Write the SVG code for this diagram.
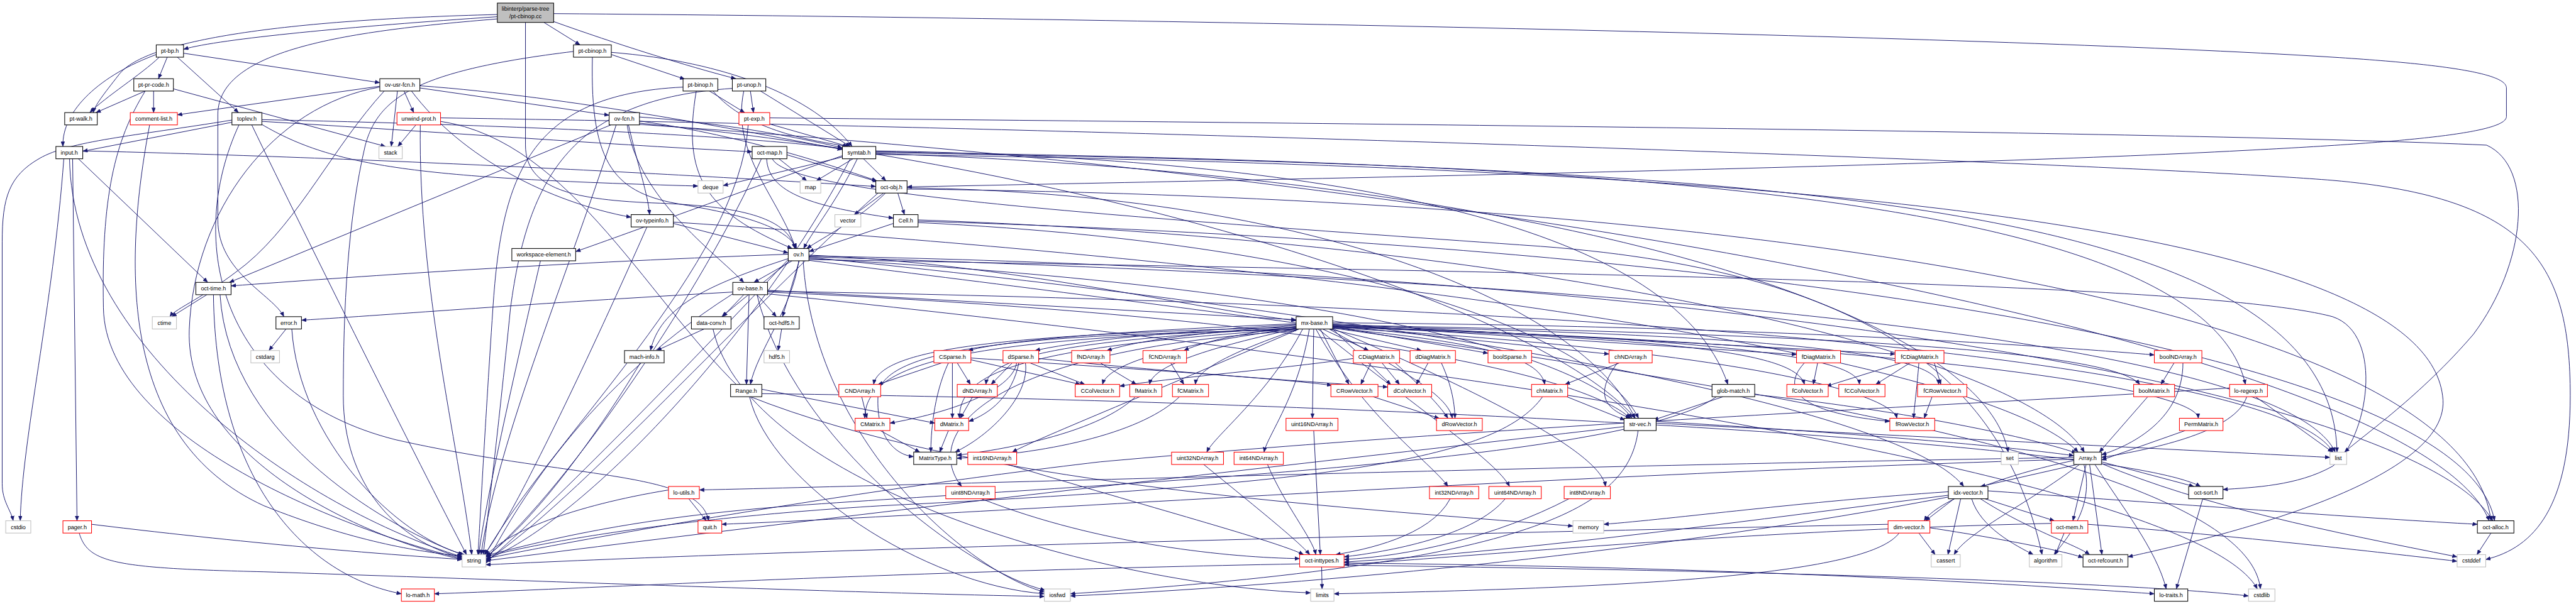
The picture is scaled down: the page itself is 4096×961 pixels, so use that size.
<svg xmlns="http://www.w3.org/2000/svg" width="4096" height="961" viewBox="0 0 4096 961">
<style>
.e path{fill:none;stroke:#191970;stroke-width:1.4;marker-end:url(#ah)}
rect.b{fill:#fff;stroke:#000;stroke-width:1.5}
rect.d{fill:#fff;stroke:#404040;stroke-width:2}
rect.r{fill:#fff;stroke:#f00;stroke-width:1.5}
rect.g{fill:#fff;stroke:#bfbfbf;stroke-width:1.5}
rect.root{fill:#bfbfbf;stroke:#000;stroke-width:1.5}
text{font-family:"Liberation Sans",Arial,Helvetica,sans-serif;font-size:13px;text-anchor:middle;fill:#000}
</style>
<defs>
<marker id="ah" viewBox="0 0 11 9" refX="11" refY="4.5" markerWidth="11" markerHeight="9" markerUnits="userSpaceOnUse" orient="auto"><path d="M0,0 L11,4.5 L0,9 z" fill="#191970" stroke="#191970" stroke-width="0.5"/></marker>
</defs>
<rect x="0" y="0" width="4096" height="961" fill="#fff"/>
<g transform="scale(0.6998)">
<g id="edges" class="e">
<path d="M1130 38 C800 60 500 88 417 112"/>
<path d="M1130 33 C650 45 330 90 270 170 C235 215 215 240 212 256"/>
<path d="M1236 51 L1318 102"/>
<path d="M1258 49 C1400 100 1560 150 1672 179"/>
<path d="M1130 43 C800 70 495 110 495 260 L495 500 C495 620 620 670 645 720"/>
<path d="M1194 51 L1194 330 C1194 430 1300 455 1500 462 C1700 470 1790 500 1806 565"/>
<path d="M1258 31 C2500 40 4500 80 5300 130 C5620 150 5695 175 5695 200 L5695 265 C5695 300 5500 322 5100 342 C4400 380 2800 410 2061 425"/>
<path d="M362 130 C320 170 240 220 204 256"/>
<path d="M380 130 L360 179"/>
<path d="M417 121 L863 188"/>
<path d="M403 130 L542 256"/>
<path d="M355 124 C230 170 140 250 143 333"/>
<path d="M1389 124 L1556 180"/>
<path d="M1346 130 C1340 380 1400 440 1550 465 C1700 490 1790 520 1810 565"/>
<path d="M1389 119 C1650 140 1850 220 1936 333"/>
<path d="M1303 117 C950 160 860 220 830 330 C790 500 780 700 780 900 C780 1100 900 1230 1050 1268"/>
<path d="M330 207 L218 256"/>
<path d="M349 207 L349 256"/>
<path d="M394 202 L876 333"/>
<path d="M330 207 C260 320 230 450 235 700 C240 1000 800 1210 1050 1270"/>
<path d="M863 196 L403 261"/>
<path d="M918 207 L940 256"/>
<path d="M903 207 L889 333"/>
<path d="M954 200 L1384 262"/>
<path d="M935 207 C1050 360 1250 460 1434 494"/>
<path d="M954 195 C1300 220 1700 300 1914 340"/>
<path d="M873 207 C760 330 680 500 560 600 C460 680 400 700 386 720"/>
<path d="M863 198 C620 240 440 480 430 750 C420 1050 850 1230 1050 1272"/>
<path d="M527 278 L188 344"/>
<path d="M527 273 C300 310 160 320 90 360 C20 400 5 450 5 550 L5 1100 C5 1140 25 1160 30 1184"/>
<path d="M595 283 C760 380 950 405 1586 423"/>
<path d="M595 276 C1000 300 1400 330 1709 345"/>
<path d="M595 272 C1200 285 1700 310 1914 338"/>
<path d="M572 284 C700 550 950 1050 1060 1261"/>
<path d="M543 284 C420 550 500 900 900 1000 C1300 1090 1590 1070 1610 1184"/>
<path d="M945 284 L904 333"/>
<path d="M955 284 C950 650 1040 1000 1072 1261"/>
<path d="M1001 268 C2500 290 4800 370 5300 410 C5750 450 5840 600 5840 900 C5840 1150 5760 1245 5648 1272"/>
<path d="M1001 276 C1300 320 1480 700 1700 900 C2200 1100 3000 1150 3574 1196"/>
<path d="M340 284 C280 600 270 1000 600 1150 C800 1230 950 1255 1050 1264"/>
<path d="M1388 284 L521 642"/>
<path d="M1425 284 C1450 450 1620 570 1690 642"/>
<path d="M1428 284 C1450 380 1472 440 1476 488"/>
<path d="M1453 266 C1650 280 1800 310 1914 336"/>
<path d="M1453 275 C1700 310 1900 380 1992 411"/>
<path d="M1453 280 C2500 380 3500 700 3716 951"/>
<path d="M1453 283 C3500 420 5500 800 5656 1184"/>
<path d="M1400 284 C1300 600 1130 1000 1093 1261"/>
<path d="M1612 207 L1692 256"/>
<path d="M1620 207 C1700 300 1850 320 1926 333"/>
<path d="M1582 207 C1550 400 1600 480 1800 565"/>
<path d="M1552 198 C1200 215 1140 400 1120 700 C1100 1000 1090 1200 1086 1261"/>
<path d="M1705 207 L1712 256"/>
<path d="M1728 207 L1932 333"/>
<path d="M1690 207 C1660 350 1770 450 1808 565"/>
<path d="M1664 201 C1300 225 1200 400 1160 700 C1130 1000 1105 1200 1098 1261"/>
<path d="M1749 282 L1927 333"/>
<path d="M1749 268 C3000 280 5000 300 5650 330 C5760 380 5740 600 5620 760 C5500 900 5370 990 5327 1028"/>
<path d="M1700 284 C1680 600 1250 1000 1102 1261"/>
<path d="M145 361 C120 700 50 1000 46 1184"/>
<path d="M165 361 L175 1184"/>
<path d="M178 361 L472 642"/>
<path d="M188 343 C900 360 1600 400 1990 424"/>
<path d="M158 361 C165 800 700 1160 1050 1266"/>
<path d="M1770 361 L1833 411"/>
<path d="M1788 352 L1994 413"/>
<path d="M1742 361 C1745 440 1850 470 2030 496"/>
<path d="M1730 361 C1600 650 1300 1100 1104 1268"/>
<path d="M1755 361 C1790 440 2500 490 3500 560 C4300 620 4560 900 4640 1261"/>
<path d="M1914 357 L1643 422"/>
<path d="M1938 361 L1855 411"/>
<path d="M1962 361 L2013 411"/>
<path d="M1948 361 C1900 460 1850 520 1826 565"/>
<path d="M1914 354 C1700 430 1400 540 1308 572"/>
<path d="M1990 343 C3000 360 3800 500 3926 874"/>
<path d="M1990 345 C3500 370 5000 420 5102 874"/>
<path d="M1990 347 C4000 380 5300 450 5310 1028"/>
<path d="M1990 349 C3500 400 4500 700 4563 1028"/>
<path d="M1990 351 C4000 380 5500 500 5550 900 C5580 1100 5000 1230 4835 1266"/>
<path d="M1932 361 C1700 800 1300 1200 1104 1272"/>
<path d="M2008 439 L1941 488"/>
<path d="M2040 439 L2055 488"/>
<path d="M2012 439 C1950 500 1870 540 1833 565"/>
<path d="M2061 427 C3000 440 3600 700 3715 951"/>
<path d="M2061 430 C4000 450 5600 700 5660 1184"/>
<path d="M1995 439 C1700 700 1300 1150 1104 1275"/>
<path d="M2030 508 L1838 572"/>
<path d="M2086 500 C3500 550 4600 800 4736 1028"/>
<path d="M2086 503 C4000 560 5600 800 5668 1184"/>
<path d="M2086 506 C3200 560 3650 800 3723 951"/>
<path d="M1530 508 L1791 575"/>
<path d="M1530 505 C3000 600 4500 800 4722 1028"/>
<path d="M1470 516 C1300 900 1150 1200 1100 1261"/>
<path d="M1228 593 C1180 800 1100 1150 1088 1261"/>
<path d="M1800 593 L1713 642"/>
<path d="M1815 593 C1800 700 1720 800 1705 874"/>
<path d="M1794 593 L1640 720"/>
<path d="M1838 585 C3000 700 4300 900 4462 1106"/>
<path d="M1791 588 C1600 650 1500 700 1478 797"/>
<path d="M1838 580 C2300 600 2700 700 2945 729"/>
<path d="M1838 582 C4000 620 5500 900 5664 1184"/>
<path d="M1791 578 C1200 600 800 630 525 650"/>
<path d="M1838 588 C3000 650 3600 800 3708 951"/>
<path d="M1816 593 L1778 720"/>
<path d="M1838 590 C3500 620 5000 640 5300 720 C5420 760 5380 1000 5300 1060 C5220 1105 5120 1108 5051 1113"/>
<path d="M1838 592 C3500 800 5100 1000 5136 1339"/>
<path d="M1825 593 C1850 1000 2200 1300 2373 1346"/>
<path d="M1838 584 C4000 650 5200 800 5306 1028"/>
<path d="M1791 590 C1500 900 1200 1200 1104 1278"/>
<path d="M1690 670 L1642 720"/>
<path d="M1720 670 L1764 720"/>
<path d="M1702 670 L1696 874"/>
<path d="M1665 664 C1200 690 900 715 685 728"/>
<path d="M1744 660 L2945 727"/>
<path d="M1744 664 C3000 720 3600 850 3704 951"/>
<path d="M1720 670 C1800 1000 2200 1300 2375 1342"/>
<path d="M1744 668 C3500 850 5000 1100 5129 1339"/>
<path d="M1744 662 C4000 700 5200 850 5301 1028"/>
<path d="M1665 668 C1300 900 1150 1200 1104 1281"/>
<path d="M470 670 L390 720"/>
<path d="M500 670 C520 1000 900 1210 1052 1261"/>
<path d="M485 670 C490 1100 700 1310 912 1350"/>
<path d="M650 748 L611 797"/>
<path d="M663 748 C680 1000 900 1220 1055 1261"/>
<path d="M1600 748 L1492 797"/>
<path d="M1620 748 C1700 1100 2500 1330 2978 1348"/>
<path d="M1776 748 L1768 797"/>
<path d="M1455 825 C1350 1000 1200 1200 1104 1265"/>
<path d="M2945 736 C2600 750 2300 770 2200 797"/>
<path d="M2945 738 C2650 755 2450 775 2352 797"/>
<path d="M2945 740 C2750 755 2600 770 2515 797"/>
<path d="M2945 742 C2850 755 2750 770 2690 797"/>
<path d="M2945 744 C2300 760 2000 790 1985 874"/>
<path d="M2945 745 C2500 770 2250 800 2240 874"/>
<path d="M2945 746 C2700 780 2520 820 2505 874"/>
<path d="M2945 747 C2750 790 2620 830 2612 874"/>
<path d="M2950 748 C2800 800 2720 840 2716 874"/>
<path d="M2945 748 C2200 770 1965 820 1965 951"/>
<path d="M2947 748 C2300 790 2180 850 2180 951"/>
<path d="M2945 750 C2400 760 2000 780 1995 900 C1990 1000 2040 1036 2076 1038"/>
<path d="M2952 748 C2600 900 2350 1000 2300 1028"/>
<path d="M2960 748 C2880 900 2760 990 2742 1028"/>
<path d="M2975 748 C2950 900 2880 990 2872 1028"/>
<path d="M2945 752 C2200 800 2100 1000 2185 1106"/>
<path d="M2985 748 L2982 951"/>
<path d="M3005 748 L3110 797"/>
<path d="M3020 748 L3230 797"/>
<path d="M3028 742 L3381 803"/>
<path d="M3028 740 L3656 805"/>
<path d="M3028 738 L4082 806"/>
<path d="M3028 736 L4306 805"/>
<path d="M3028 734 C4000 740 4700 790 4895 807"/>
<path d="M3000 748 L3065 874"/>
<path d="M3028 748 L3160 874"/>
<path d="M3028 746 C3400 780 3500 820 3510 874"/>
<path d="M3028 744 C3800 770 4080 800 4100 874"/>
<path d="M3028 742 C3900 770 4220 810 4225 874"/>
<path d="M3028 741 C4000 760 4400 800 4405 874"/>
<path d="M3028 739 C4200 760 4800 800 4862 874"/>
<path d="M3020 748 C3200 850 3290 900 3300 951"/>
<path d="M3028 745 C4000 800 4300 900 4310 951"/>
<path d="M3028 743 C4300 780 4990 880 4995 951"/>
<path d="M2990 748 C3100 950 3250 1050 3290 1106"/>
<path d="M2995 748 C3250 950 3400 1050 3430 1106"/>
<path d="M3028 747 C3500 950 3640 1050 3648 1106"/>
<path d="M2140 825 L1995 874"/>
<path d="M2175 825 L2205 874"/>
<path d="M2164 825 L2164 951"/>
<path d="M2206 818 L2455 874"/>
<path d="M2155 825 C2120 900 2115 990 2115 1028"/>
<path d="M2206 814 C2600 840 2900 860 3026 876"/>
<path d="M2300 825 L2252 874"/>
<path d="M2315 825 C2300 900 2250 940 2201 958"/>
<path d="M2340 825 L2465 874"/>
<path d="M2330 825 C2340 900 2250 990 2170 1028"/>
<path d="M2310 825 C2300 890 2150 940 2022 962"/>
<path d="M2360 815 C2700 850 3000 870 3153 880"/>
<path d="M2500 825 L2582 874"/>
<path d="M2660 825 L2690 874"/>
<path d="M1958 902 L1970 951"/>
<path d="M2210 902 L2182 951"/>
<path d="M2580 902 C2500 980 2300 1020 2174 1035"/>
<path d="M2680 902 C2600 980 2400 1030 2174 1042"/>
<path d="M2000 979 L2090 1028"/>
<path d="M2155 979 L2135 1028"/>
<path d="M1731 885 L2124 962"/>
<path d="M1703 902 C1750 1100 2100 1330 2373 1350"/>
<path d="M1731 895 C3000 910 4800 1000 5000 1106"/>
<path d="M3115 825 L3092 874"/>
<path d="M3140 825 L3180 874"/>
<path d="M3170 825 C3230 880 3270 920 3290 951"/>
<path d="M3075 815 C2900 840 2650 860 2544 878"/>
<path d="M3245 825 L3218 874"/>
<path d="M3275 825 C3300 880 3305 920 3306 951"/>
<path d="M3120 902 L3270 951"/>
<path d="M3680 825 L3556 874"/>
<path d="M3675 825 C3620 900 3650 930 3705 951"/>
<path d="M3560 902 L3692 955"/>
<path d="M3505 902 C3400 1050 3000 1100 2000 1150 C1500 1180 1200 1240 1104 1266"/>
<path d="M4130 825 L4120 874"/>
<path d="M4100 825 C4040 890 4100 940 4294 958"/>
<path d="M4320 825 L4150 878"/>
<path d="M4340 825 L4262 874"/>
<path d="M4395 825 L4410 874"/>
<path d="M4360 825 C4355 890 4350 920 4348 951"/>
<path d="M4390 902 L4372 951"/>
<path d="M3915 902 L3757 955"/>
<path d="M3987 897 C4300 930 4600 990 4718 1030"/>
<path d="M3900 902 C3700 1050 2500 1100 1800 1150 C1400 1180 1200 1240 1104 1263"/>
<path d="M4940 825 L4910 874"/>
<path d="M4960 825 C4960 950 4850 1010 4775 1034"/>
<path d="M4880 902 L4770 1028"/>
<path d="M5105 902 C5080 980 4900 1020 4775 1040"/>
<path d="M5125 902 L5300 1028"/>
<path d="M5066 882 C4500 920 3500 960 2500 1050 C1900 1120 1300 1230 1104 1270"/>
<path d="M4965 979 L4775 1046"/>
<path d="M3763 958 C4300 990 4600 1020 4712 1036"/>
<path d="M3763 962 C4500 1000 5100 1030 5294 1040"/>
<path d="M3722 979 C3700 1150 3500 1280 2432 1350"/>
<path d="M3690 970 C3000 1050 2000 1160 1104 1275"/>
<path d="M2985 979 L3000 1261"/>
<path d="M2290 1056 C2600 1150 2900 1230 2962 1261"/>
<path d="M2735 1056 C2850 1150 2950 1230 2976 1261"/>
<path d="M2880 1056 C2920 1150 2980 1220 2990 1261"/>
<path d="M2230 1134 C2500 1240 2800 1268 2953 1270"/>
<path d="M3295 1134 C3250 1220 3100 1250 3035 1261"/>
<path d="M3420 1134 C3350 1220 3150 1255 3054 1266"/>
<path d="M3565 1134 C3400 1220 3200 1265 3054 1272"/>
<path d="M3003 1289 L3004 1339"/>
<path d="M2953 1282 C2000 1300 1300 1340 987 1350"/>
<path d="M3054 1280 C4000 1290 4600 1330 4895 1350"/>
<path d="M3054 1285 C4200 1300 4900 1330 5109 1355"/>
<path d="M4720 1056 L4500 1106"/>
<path d="M4775 1050 L4985 1106"/>
<path d="M4740 1056 L4710 1184"/>
<path d="M4725 1056 C4600 1150 4470 1210 4440 1261"/>
<path d="M4735 1056 C4760 1150 4700 1220 4667 1261"/>
<path d="M4748 1056 L4776 1261"/>
<path d="M4760 1056 C4820 1150 4900 1250 4922 1339"/>
<path d="M4775 1054 C5000 1150 5300 1210 5583 1266"/>
<path d="M4712 1047 C4550 1080 4400 1140 4372 1184"/>
<path d="M4712 1040 C3500 1060 2200 1100 1589 1114"/>
<path d="M4712 1044 C3500 1080 2200 1170 1640 1192"/>
<path d="M4455 1134 L4426 1261"/>
<path d="M4480 1134 C4500 1200 4580 1240 4620 1261"/>
<path d="M4500 1134 C4600 1200 4720 1240 4748 1261"/>
<path d="M4510 1134 L4668 1184"/>
<path d="M4517 1116 C5000 1150 5400 1180 5629 1192"/>
<path d="M4440 1134 L4375 1184"/>
<path d="M4427 1126 C4000 1180 3500 1250 3054 1278"/>
<path d="M4427 1118 C4100 1140 3800 1180 3644 1192"/>
<path d="M4427 1130 C3800 1250 3000 1330 2432 1355"/>
<path d="M5005 1134 L4945 1339"/>
<path d="M5660 1212 L5628 1261"/>
<path d="M4744 1192 C5100 1220 5400 1255 5583 1276"/>
<path d="M4690 1212 L4670 1261"/>
<path d="M4661 1190 C4000 1205 3400 1260 3054 1284"/>
<path d="M4360 1212 L4397 1261"/>
<path d="M4315 1212 C4250 1300 3800 1335 3031 1350"/>
<path d="M4290 1192 C3000 1220 1800 1250 1104 1284"/>
<path d="M4385 1200 C4550 1225 4700 1255 4733 1268"/>
<path d="M1565 1134 L1605 1184"/>
<path d="M1519 1114 C1300 1150 1150 1210 1104 1264"/>
<path d="M208 1192 C600 1240 900 1262 1050 1272"/>
<path d="M180 1212 C200 1280 260 1292 600 1300 C1200 1320 2000 1350 2373 1356"/>
</g>
<g id="nodes">
<g id="n-root"><rect class="root" x="1130" y="7" width="128" height="44"/><text x="1194" y="25">libinterp/parse-tree</text><text x="1194" y="42">/pt-cbinop.cc</text></g>
<g id="n-pt-bp"><rect class="b" x="355" y="102" width="62" height="28"/><text x="386" y="120.5">pt-bp.h</text></g>
<g id="n-pt-cbinop-h"><rect class="b" x="1303" y="102" width="86" height="28"/><text x="1346" y="120.5">pt-cbinop.h</text></g>
<g id="n-pt-pr-code"><rect class="b" x="304" y="179" width="90" height="28"/><text x="349" y="197.5">pt-pr-code.h</text></g>
<g id="n-ov-usr-fcn"><rect class="b" x="863" y="179" width="91" height="28"/><text x="908.5" y="197.5">ov-usr-fcn.h</text></g>
<g id="n-pt-binop"><rect class="b" x="1552" y="179" width="79" height="28"/><text x="1591.5" y="197.5">pt-binop.h</text></g>
<g id="n-pt-unop"><rect class="b" x="1664" y="179" width="76" height="28"/><text x="1702" y="197.5">pt-unop.h</text></g>
<g id="n-pt-walk"><rect class="b" x="147" y="256" width="74" height="28"/><text x="184" y="274.5">pt-walk.h</text></g>
<g id="n-comment-list"><rect class="r" x="296" y="256" width="107" height="28"/><text x="349.5" y="274.5">comment-list.h</text></g>
<g id="n-toplev"><rect class="b" x="527" y="256" width="68" height="28"/><text x="561" y="274.5">toplev.h</text></g>
<g id="n-unwind-prot"><rect class="r" x="902" y="256" width="99" height="28"/><text x="951.5" y="274.5">unwind-prot.h</text></g>
<g id="n-ov-fcn"><rect class="b" x="1384" y="256" width="69" height="28"/><text x="1418.5" y="274.5">ov-fcn.h</text></g>
<g id="n-pt-exp"><rect class="r" x="1679" y="256" width="70" height="28"/><text x="1714" y="274.5">pt-exp.h</text></g>
<g id="n-input"><rect class="b" x="127" y="333" width="61" height="28"/><text x="157.5" y="351.5">input.h</text></g>
<g id="n-stack"><rect class="g" x="861" y="333" width="53" height="28"/><text x="887.5" y="351.5">stack</text></g>
<g id="n-oct-map"><rect class="b" x="1709" y="333" width="79" height="28"/><text x="1748.5" y="351.5">oct-map.h</text></g>
<g id="n-symtab"><rect class="b" x="1914" y="333" width="76" height="28"/><text x="1952" y="351.5">symtab.h</text></g>
<g id="n-deque"><rect class="g" x="1586" y="411" width="57" height="28"/><text x="1614.5" y="429.5">deque</text></g>
<g id="n-map"><rect class="g" x="1818" y="411" width="47" height="28"/><text x="1841.5" y="429.5">map</text></g>
<g id="n-oct-obj"><rect class="b" x="1990" y="411" width="71" height="28"/><text x="2025.5" y="429.5">oct-obj.h</text></g>
<g id="n-ov-typeinfo"><rect class="b" x="1434" y="488" width="96" height="28"/><text x="1482" y="506.5">ov-typeinfo.h</text></g>
<g id="n-vector"><rect class="g" x="1897" y="488" width="59" height="28"/><text x="1926.5" y="506.5">vector</text></g>
<g id="n-Cell"><rect class="b" x="2030" y="488" width="56" height="28"/><text x="2058" y="506.5">Cell.h</text></g>
<g id="n-workspace-element"><rect class="b" x="1163" y="565" width="145" height="28"/><text x="1235.5" y="583.5">workspace-element.h</text></g>
<g id="n-ov"><rect class="b" x="1791" y="565" width="47" height="28"/><text x="1814.5" y="583.5">ov.h</text></g>
<g id="n-oct-time"><rect class="b" x="445" y="642" width="80" height="28"/><text x="485" y="660.5">oct-time.h</text></g>
<g id="n-ov-base"><rect class="b" x="1665" y="642" width="79" height="28"/><text x="1704.5" y="660.5">ov-base.h</text></g>
<g id="n-ctime"><rect class="g" x="346" y="720" width="55" height="28"/><text x="373.5" y="738.5">ctime</text></g>
<g id="n-error"><rect class="b" x="627" y="720" width="58" height="28"/><text x="656" y="738.5">error.h</text></g>
<g id="n-data-conv"><rect class="b" x="1571" y="720" width="90" height="28"/><text x="1616" y="738.5">data-conv.h</text></g>
<g id="n-oct-hdf5"><rect class="b" x="1736" y="720" width="80" height="28"/><text x="1776" y="738.5">oct-hdf5.h</text></g>
<g id="n-mx-base"><rect class="b" x="2945" y="720" width="83" height="28"/><text x="2986.5" y="738.5">mx-base.h</text></g>
<g id="n-cstdarg"><rect class="g" x="570" y="797" width="65" height="28"/><text x="602.5" y="815.5">cstdarg</text></g>
<g id="n-mach-info"><rect class="d" x="1419" y="797" width="90" height="28"/><text x="1464" y="815.5">mach-info.h</text></g>
<g id="n-hdf5"><rect class="g" x="1736" y="797" width="58" height="28"/><text x="1765" y="815.5">hdf5.h</text></g>
<g id="n-CSparse"><rect class="r" x="2122" y="797" width="84" height="28"/><text x="2164" y="815.5">CSparse.h</text></g>
<g id="n-dSparse"><rect class="r" x="2279" y="797" width="81" height="28"/><text x="2319.5" y="815.5">dSparse.h</text></g>
<g id="n-fNDArray"><rect class="r" x="2435" y="797" width="87" height="28"/><text x="2478.5" y="815.5">fNDArray.h</text></g>
<g id="n-fCNDArray"><rect class="r" x="2597" y="797" width="99" height="28"/><text x="2646.5" y="815.5">fCNDArray.h</text></g>
<g id="n-CDiagMatrix"><rect class="r" x="3075" y="797" width="105" height="28"/><text x="3127.5" y="815.5">CDiagMatrix.h</text></g>
<g id="n-dDiagMatrix"><rect class="r" x="3204" y="797" width="103" height="28"/><text x="3255.5" y="815.5">dDiagMatrix.h</text></g>
<g id="n-boolSparse"><rect class="r" x="3381" y="797" width="99" height="28"/><text x="3430.5" y="815.5">boolSparse.h</text></g>
<g id="n-chNDArray"><rect class="r" x="3656" y="797" width="98" height="28"/><text x="3705" y="815.5">chNDArray.h</text></g>
<g id="n-fDiagMatrix"><rect class="r" x="4082" y="797" width="100" height="28"/><text x="4132" y="815.5">fDiagMatrix.h</text></g>
<g id="n-fCDiagMatrix"><rect class="r" x="4306" y="797" width="111" height="28"/><text x="4361.5" y="815.5">fCDiagMatrix.h</text></g>
<g id="n-boolNDArray"><rect class="r" x="4895" y="797" width="108" height="28"/><text x="4949" y="815.5">boolNDArray.h</text></g>
<g id="n-Range"><rect class="b" x="1660" y="874" width="71" height="28"/><text x="1695.5" y="892.5">Range.h</text></g>
<g id="n-CNDArray"><rect class="r" x="1906" y="874" width="95" height="28"/><text x="1953.5" y="892.5">CNDArray.h</text></g>
<g id="n-dNDArray"><rect class="r" x="2175" y="874" width="91" height="28"/><text x="2220.5" y="892.5">dNDArray.h</text></g>
<g id="n-CColVector"><rect class="r" x="2443" y="874" width="101" height="28"/><text x="2493.5" y="892.5">CColVector.h</text></g>
<g id="n-fMatrix"><rect class="r" x="2567" y="874" width="73" height="28"/><text x="2603.5" y="892.5">fMatrix.h</text></g>
<g id="n-fCMatrix"><rect class="r" x="2664" y="874" width="82" height="28"/><text x="2705" y="892.5">fCMatrix.h</text></g>
<g id="n-CRowVector"><rect class="r" x="3024" y="874" width="107" height="28"/><text x="3077.5" y="892.5">CRowVector.h</text></g>
<g id="n-dColVector"><rect class="r" x="3153" y="874" width="100" height="28"/><text x="3203" y="892.5">dColVector.h</text></g>
<g id="n-chMatrix"><rect class="r" x="3480" y="874" width="82" height="28"/><text x="3521" y="892.5">chMatrix.h</text></g>
<g id="n-glob-match"><rect class="b" x="3890" y="874" width="97" height="28"/><text x="3938.5" y="892.5">glob-match.h</text></g>
<g id="n-fColVector"><rect class="r" x="4060" y="874" width="94" height="28"/><text x="4107" y="892.5">fColVector.h</text></g>
<g id="n-fCColVector"><rect class="r" x="4178" y="874" width="105" height="28"/><text x="4230.5" y="892.5">fCColVector.h</text></g>
<g id="n-fCRowVector"><rect class="r" x="4357" y="874" width="112" height="28"/><text x="4413" y="892.5">fCRowVector.h</text></g>
<g id="n-boolMatrix"><rect class="r" x="4848" y="874" width="93" height="28"/><text x="4894.5" y="892.5">boolMatrix.h</text></g>
<g id="n-lo-regexp"><rect class="r" x="5066" y="874" width="86" height="28"/><text x="5109" y="892.5">lo-regexp.h</text></g>
<g id="n-CMatrix"><rect class="r" x="1943" y="951" width="79" height="28"/><text x="1982.5" y="969.5">CMatrix.h</text></g>
<g id="n-dMatrix"><rect class="r" x="2124" y="951" width="77" height="28"/><text x="2162.5" y="969.5">dMatrix.h</text></g>
<g id="n-uint16NDArray"><rect class="r" x="2922" y="951" width="118" height="28"/><text x="2981" y="969.5">uint16NDArray.h</text></g>
<g id="n-dRowVector"><rect class="r" x="3264" y="951" width="104" height="28"/><text x="3316" y="969.5">dRowVector.h</text></g>
<g id="n-str-vec"><rect class="b" x="3690" y="951" width="73" height="28"/><text x="3726.5" y="969.5">str-vec.h</text></g>
<g id="n-fRowVector"><rect class="r" x="4294" y="951" width="102" height="28"/><text x="4345" y="969.5">fRowVector.h</text></g>
<g id="n-PermMatrix"><rect class="r" x="4952" y="951" width="99" height="28"/><text x="5001.5" y="969.5">PermMatrix.h</text></g>
<g id="n-MatrixType"><rect class="d" x="2076" y="1028" width="98" height="28"/><text x="2125" y="1046.5">MatrixType.h</text></g>
<g id="n-int16NDArray"><rect class="r" x="2199" y="1028" width="111" height="28"/><text x="2254.5" y="1046.5">int16NDArray.h</text></g>
<g id="n-uint32NDArray"><rect class="r" x="2662" y="1028" width="118" height="28"/><text x="2721" y="1046.5">uint32NDArray.h</text></g>
<g id="n-int64NDArray"><rect class="r" x="2804" y="1028" width="112" height="28"/><text x="2860" y="1046.5">int64NDArray.h</text></g>
<g id="n-set"><rect class="g" x="4547" y="1028" width="39" height="28"/><text x="4566.5" y="1046.5">set</text></g>
<g id="n-Array"><rect class="d" x="4712" y="1028" width="63" height="28"/><text x="4743.5" y="1046.5">Array.h</text></g>
<g id="n-list"><rect class="g" x="5294" y="1028" width="38" height="28"/><text x="5313" y="1046.5">list</text></g>
<g id="n-lo-utils"><rect class="r" x="1519" y="1106" width="70" height="28"/><text x="1554" y="1124.5">lo-utils.h</text></g>
<g id="n-uint8NDArray"><rect class="r" x="2149" y="1106" width="112" height="28"/><text x="2205" y="1124.5">uint8NDArray.h</text></g>
<g id="n-int32NDArray"><rect class="r" x="3248" y="1106" width="112" height="28"/><text x="3304" y="1124.5">int32NDArray.h</text></g>
<g id="n-uint64NDArray"><rect class="r" x="3383" y="1106" width="119" height="28"/><text x="3442.5" y="1124.5">uint64NDArray.h</text></g>
<g id="n-int8NDArray"><rect class="r" x="3554" y="1106" width="105" height="28"/><text x="3606.5" y="1124.5">int8NDArray.h</text></g>
<g id="n-idx-vector"><rect class="b" x="4427" y="1106" width="90" height="28"/><text x="4472" y="1124.5">idx-vector.h</text></g>
<g id="n-oct-sort"><rect class="b" x="4973" y="1106" width="78" height="28"/><text x="5012" y="1124.5">oct-sort.h</text></g>
<g id="n-cstdio"><rect class="g" x="13" y="1184" width="57" height="28"/><text x="41.5" y="1202.5">cstdio</text></g>
<g id="n-pager"><rect class="r" x="143" y="1184" width="65" height="28"/><text x="175.5" y="1202.5">pager.h</text></g>
<g id="n-quit"><rect class="r" x="1586" y="1184" width="54" height="28"/><text x="1613" y="1202.5">quit.h</text></g>
<g id="n-memory"><rect class="g" x="3574" y="1184" width="70" height="28"/><text x="3609" y="1202.5">memory</text></g>
<g id="n-dim-vector"><rect class="r" x="4290" y="1184" width="95" height="28"/><text x="4337.5" y="1202.5">dim-vector.h</text></g>
<g id="n-oct-mem"><rect class="r" x="4661" y="1184" width="83" height="28"/><text x="4702.5" y="1202.5">oct-mem.h</text></g>
<g id="n-oct-alloc"><rect class="b" x="5629" y="1184" width="83" height="28"/><text x="5670.5" y="1202.5">oct-alloc.h</text></g>
<g id="n-string"><rect class="g" x="1050" y="1261" width="54" height="28"/><text x="1077" y="1279.5">string</text></g>
<g id="n-oct-inttypes"><rect class="r" x="2953" y="1261" width="101" height="28"/><text x="3003.5" y="1279.5">oct-inttypes.h</text></g>
<g id="n-cassert"><rect class="g" x="4388" y="1261" width="66" height="28"/><text x="4421" y="1279.5">cassert</text></g>
<g id="n-algorithm"><rect class="g" x="4611" y="1261" width="74" height="28"/><text x="4648" y="1279.5">algorithm</text></g>
<g id="n-oct-refcount"><rect class="d" x="4733" y="1261" width="102" height="28"/><text x="4784" y="1279.5">oct-refcount.h</text></g>
<g id="n-cstddef"><rect class="g" x="5583" y="1261" width="65" height="28"/><text x="5615.5" y="1279.5">cstddef</text></g>
<g id="n-lo-math"><rect class="r" x="912" y="1339" width="75" height="28"/><text x="949.5" y="1357.5">lo-math.h</text></g>
<g id="n-iosfwd"><rect class="g" x="2373" y="1339" width="59" height="28"/><text x="2402.5" y="1357.5">iosfwd</text></g>
<g id="n-limits"><rect class="g" x="2978" y="1339" width="53" height="28"/><text x="3004.5" y="1357.5">limits</text></g>
<g id="n-lo-traits"><rect class="b" x="4895" y="1339" width="76" height="28"/><text x="4933" y="1357.5">lo-traits.h</text></g>
<g id="n-cstdlib"><rect class="g" x="5109" y="1339" width="60" height="28"/><text x="5139" y="1357.5">cstdlib</text></g>
</g>
</g>
</svg>
